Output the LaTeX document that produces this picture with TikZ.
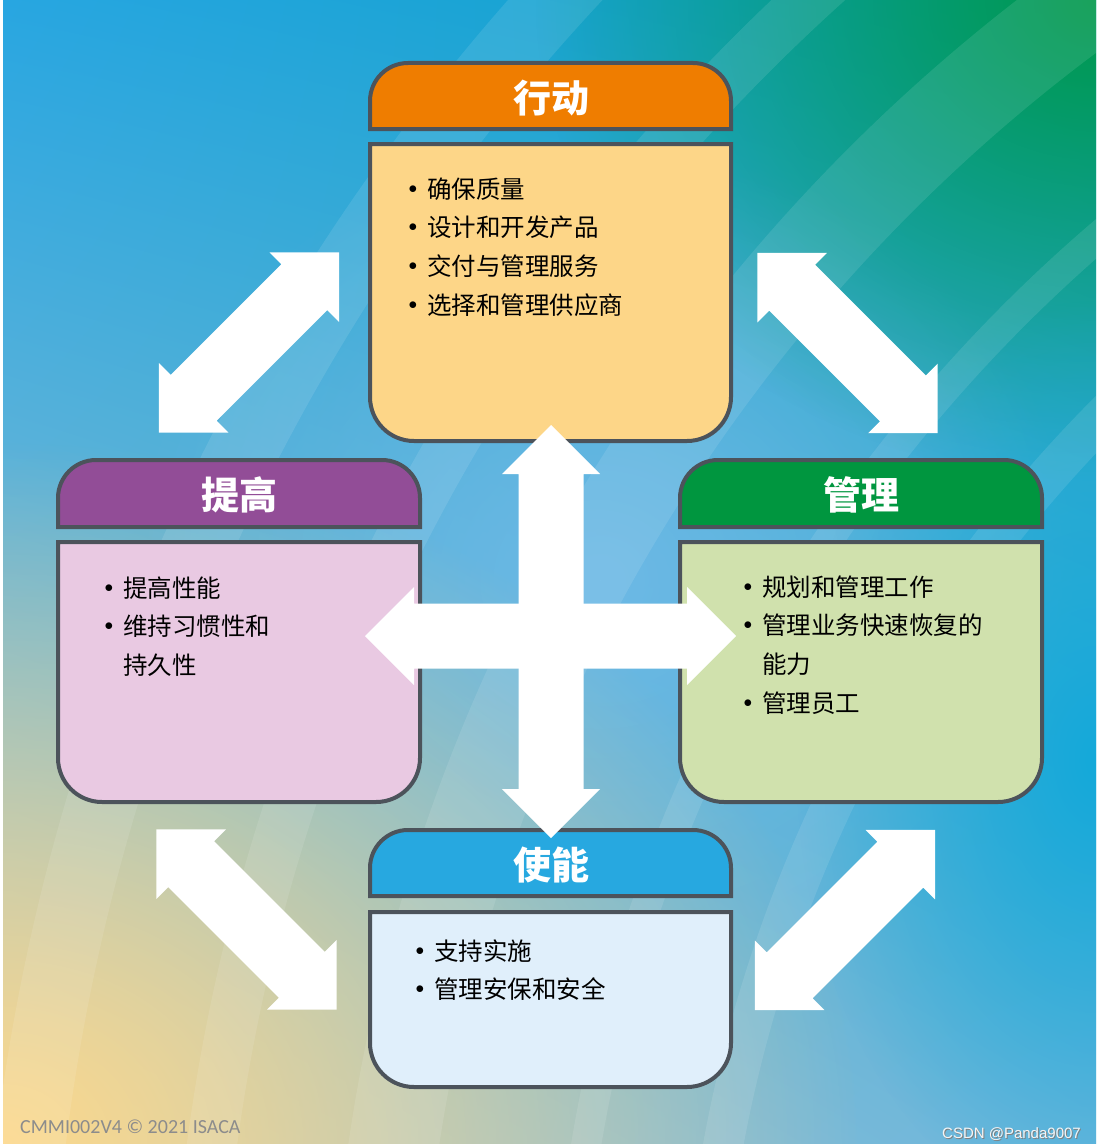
\documentclass[tikz,border=0pt]{standalone}
\usepackage{fontspec}
\setmainfont{Noto Sans CJK SC}
\newfontfamily\calibrifont{Carlito}
\newfontfamily\arialfont{Liberation Sans}
\usetikzlibrary{fadings,shadings}

\definecolor{boxgray}{HTML}{4C535B}
\definecolor{actorange}{HTML}{EF7D00}
\definecolor{actbody}{HTML}{FDD688}
\definecolor{imppurple}{HTML}{924D97}
\definecolor{impbody}{HTML}{E9C9E2}
\definecolor{mgtgreen}{HTML}{00963F}
\definecolor{mgtbody}{HTML}{D0E1AD}
\definecolor{enablue}{HTML}{27A8E0}
\definecolor{enabody}{HTML}{E0EFFB}
\definecolor{bgblue}{HTML}{28A6E1}
\definecolor{bgtop}{HTML}{09A1C4}
\definecolor{bggreen}{HTML}{00984A}
\definecolor{bgyellow}{HTML}{FDD98C}
\definecolor{bgleft}{HTML}{A4C3CF}
\definecolor{bgsky}{HTML}{6AB6DC}
\definecolor{bgmid}{HTML}{6DB9E6}
\definecolor{bgteal}{HTML}{14A9DA}
\definecolor{copygray}{HTML}{8C8C8C}

\tikzfading[name=glow, inner color=transparent!0, outer color=transparent!100]

\tikzset{
  boxline/.style={draw=boxgray, line width=4pt},
  headtext/.style={text=white, inner sep=0pt, text height=33pt, text depth=5pt,
                   font=\fontsize{38}{40}\selectfont\bfseries},
  item/.style={anchor=west, inner sep=0pt, text height=21.5pt, text depth=3pt,
               font=\fontsize{24.5}{30}\selectfont},
  stripe/.style={white, opacity=.1, even odd rule}
}

% tab on top of a box: x1, y1, x2, y2, colour
\newcommand\boxhead[5]{%
  \filldraw[boxline, fill=#5] (#1,#4) -- (#1,#2+38)
    arc[start angle=180, end angle=270, radius=38] -- (#3-38,#2)
    arc[start angle=270, end angle=360, radius=38] -- (#3,#4) -- cycle;}
% body of a box, round at the bottom
\newcommand\boxbody[5]{%
  \filldraw[boxline, fill=#5] (#1,#2) -- (#1,#4-44)
    arc[start angle=180, end angle=90, radius=44] -- (#3-44,#4)
    arc[start angle=90, end angle=0, radius=44] -- (#3,#2) -- cycle;}
% white double arrow: centre, angle, half length
\newcommand\bigarrow[3]{%
  \fill[white, shift={#1}, rotate=#2]
    (-#3,0) -- ++(49,49) -- ++(0,-16.5) -- (#3-49,32.5) -- ++(0,16.5)
    -- (#3,0) -- ++(-49,-49) -- ++(0,16.5) -- (-#3+49,-32.5) -- ++(0,-16.5) -- cycle;}
\newcommand\bul{\llap{\raisebox{5pt}{\fontsize{19}{19}\selectfont$\bullet$}\hspace{10pt}}}

\begin{document}
\begin{tikzpicture}[x=1pt, y=-1pt]
  \useasboundingbox (0,0) rectangle (1096,1148);
  \fill[white] (0,0) rectangle (1096,1148);

  % background
  \begin{scope}
    \clip (3,0) rectangle (1096,1143);
    \shade[upper left=bgblue, upper right=bgtop, lower left=bgleft, lower right=bgsky]
      (3,0) rectangle (1096,1143);
    \fill[bgmid, path fading=glow] (600,580) ellipse (480 and 440);
    \fill[bggreen, path fading=glow] (1096,0) ellipse (560 and 480);
    \fill[bgyellow, path fading=glow] (3,1143) ellipse (860 and 700);
    \fill[bgteal, path fading=glow] (1096,760) ellipse (300 and 460);
    \foreach \r/\w in {1380/40, 1520/30, 1680/90, 1880/50, 2050/70}
      \fill[stripe] (2100,1400) circle[radius=\r] circle[radius=\r+\w];
  \end{scope}

  % arrows between the corner boxes
  \bigarrow{(249,342.5)}{45}{127.3}
  \bigarrow{(847.5,343)}{-45}{127.3}
  \bigarrow{(246.5,919.5)}{-45}{127.3}
  \bigarrow{(845,920)}{45}{127.3}

  % boxes
  \boxhead{370}{63}{731}{129}{actorange}
  \boxbody{370}{144}{731}{441}{actbody}
  \boxhead{58}{460}{420}{527}{imppurple}
  \boxbody{58}{542}{420}{802}{impbody}
  \boxhead{680}{460}{1042}{527}{mgtgreen}
  \boxbody{680}{542}{1042}{802}{mgtbody}
  \boxhead{370}{830}{731}{896}{enablue}
  \boxbody{370}{912}{731}{1087}{enabody}

  \node[headtext] (act-t) at (551,98) {行动};
  \node[headtext] (imp-t) at (239,495) {提高};
  \node[headtext] (mgt-t) at (861,495) {管理};
  \node[headtext] (ena-t) at (551,865) {使能};

  \foreach \b/\t [count=\i] in {1/确保质量, 1/设计和开发产品, 1/交付与管理服务, 1/选择和管理供应商}
    \node[item] (act-\i) at (427,{189+38.7*(\i-1)}) {\ifnum\b=1 \bul\fi\t};
  \foreach \b/\t [count=\i] in {1/提高性能, 1/维持习惯性和, 0/持久性}
    \node[item] (imp-\i) at (123,{588+38.7*(\i-1)}) {\ifnum\b=1 \bul\fi\t};
  \foreach \b/\t [count=\i] in {1/规划和管理工作, 1/管理业务快速恢复的, 0/能力, 1/管理员工}
    \node[item] (mgt-\i) at (762,{587+38.7*(\i-1)}) {\ifnum\b=1 \bul\fi\t};
  \foreach \b/\t [count=\i] in {1/支持实施, 1/管理安保和安全}
    \node[item] (ena-\i) at (434,{951+38.7*(\i-1)}) {\ifnum\b=1 \bul\fi\t};

  % central cross
  \bigarrow{(551,631.5)}{90}{206.5}
  \bigarrow{(550.5,636)}{0}{185.5}

  % footer
  \node[anchor=base west, inner sep=0pt, text=copygray,
        font=\calibrifont\fontsize{20}{24}\selectfont] (copy) at (20,1133)
    {CMMI002V4 © 2021 ISACA};
  \node[anchor=base east, inner sep=0pt, text=gray,
        font=\arialfont\fontsize{15}{18}\selectfont] (wm-shadow) at (1082,1139)
    {CSDN @Panda9007};
  \node[anchor=base east, inner sep=0pt, text=white!92!gray,
        font=\arialfont\fontsize{15}{18}\selectfont] (wm) at (1081,1138)
    {CSDN @Panda9007};
\end{tikzpicture}
\end{document}
